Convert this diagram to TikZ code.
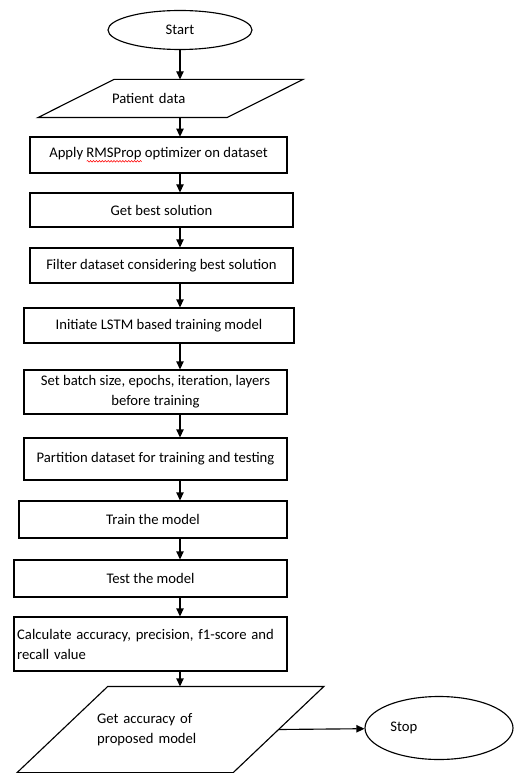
\documentclass[tikz,border=0pt]{standalone}
\usepackage{fontspec}
\setmainfont{Carlito}
\usetikzlibrary{positioning,arrows.meta,shapes.geometric,decorations.pathmorphing}
\newlength{\wavelen}
\newcommand{\redwave}[1]{\settowidth{\wavelen}{#1}\rlap{\tikz[baseline=0pt]\draw[red,line width=0.4pt,decorate,decoration={snake,amplitude=0.6pt,segment length=2.2pt}] (0pt,-2.6pt) -- (\wavelen,-2.6pt);}#1}

\begin{document}
\begin{tikzpicture}[x=0.75pt,y=-0.75pt, line width=0.85pt, every node/.style={font=\fontsize{11}{15}\selectfont},
  proc/.style={draw,align=center,inner sep=2pt},
  io/.style={align=left,inner xsep=0pt},
  term/.style={draw,ellipse,inner sep=1pt}, >={Triangle[length=6pt,width=5.5pt]}]
  \useasboundingbox (0,0) rectangle (520,773);
  \node[term,minimum width=108pt,minimum height=29.25pt] (start) at (180,30) {Start};
  \node[io,minimum width=141pt,minimum height=27.75pt,text width=87.75pt] (pat) at (170.5,98.5) {Patient data};
  \node[proc,minimum width=192.75pt,minimum height=27pt] (apply) at (158.5,155) {Apply \redwave{RMSProp} optimizer on dataset};
  \node[proc,minimum width=197.25pt,minimum height=25.5pt] (best) at (161.5,210) {Get best solution};
  \node[proc,minimum width=197.25pt,minimum height=26.25pt] (filter) at (161.5,265.5) {Filter dataset considering best solution};
  \node[proc,minimum width=202.5pt,minimum height=26.25pt] (lstm) at (159,325.5) {Initiate LSTM based training model};
  \node[proc,minimum width=197.25pt,minimum height=33pt] (batch) at (155.5,392) {Set batch size, epochs, iteration, layers\\ before training};
  \node[proc,minimum width=197.25pt,minimum height=31.5pt] (part) at (155.5,459) {Partition dataset for training and testing};
  \node[proc,minimum width=201pt,minimum height=27.75pt] (train) at (153,519.5) {Train the model};
  \node[proc,minimum width=204.75pt,minimum height=27.75pt] (test) at (150.5,578.5) {Test the model};
  \node[proc,minimum width=204.75pt,minimum height=40.5pt,text width=200pt,align=left] (calc) at (150.5,644) {Calculate accuracy, precision, f1-score and\\ recall value};
  \node[io,minimum width=161.25pt,minimum height=63.75pt,text width=110pt] (acc) at (170.5,729.5) {Get accuracy of\\ proposed model};
  \node[term,minimum width=111pt,minimum height=47.25pt,text width=73pt,align=left] (stop) at (439,728) {Stop};
  % parallelograms round the io nodes
  \draw ([xshift=28.5]pat.north west) -- ([xshift=28.5]pat.north east) -- ([xshift=-28.5]pat.south east) -- ([xshift=-28.5]pat.south west) -- cycle;
  \draw ([xshift=34]acc.north west) -- ([xshift=34]acc.north east) -- ([xshift=-34]acc.south east) -- ([xshift=-34]acc.south west) -- cycle;
  \draw[->] (start) -- (pat.north -| start); \draw[->] (pat.south -| start) -- (apply.north -| start);
  \draw[->] (apply.south -| start) -- (best.north -| start); \draw[->] (best.south -| start) -- (filter.north -| start);
  \draw[->] (filter.south -| start) -- (lstm.north -| start); \draw[->] (lstm.south -| start) -- (batch.north -| start);
  \draw[->] (batch.south -| start) -- (part.north -| start); \draw[->] (part.south -| start) -- (train.north -| start);
  \draw[->] (train.south -| start) -- (test.north -| start); \draw[->] (test.south -| start) -- (calc.north -| start);
  \draw[->] (calc.south -| start) -- (acc.north -| start); \draw[->] (acc.east) -- (stop);
\end{tikzpicture}
\end{document}
